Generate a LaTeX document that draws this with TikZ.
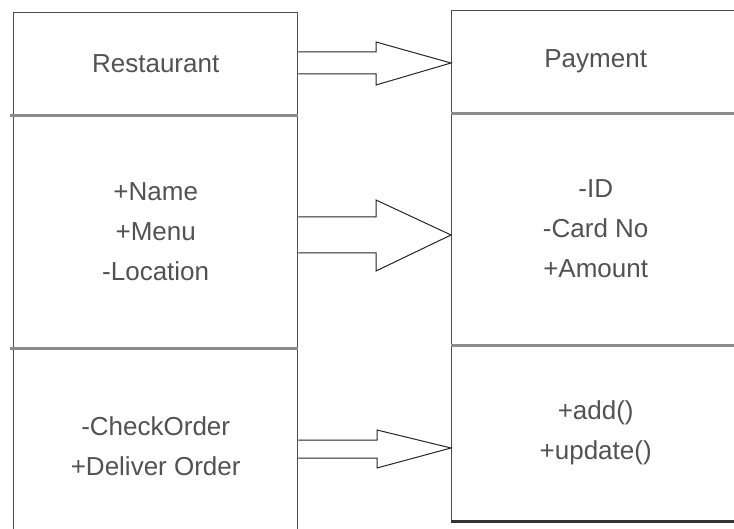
\documentclass[tikz,border=0pt]{standalone}
\usepackage{fontspec}
\setmainfont{Liberation Sans}
\begin{document}
\begin{tikzpicture}[x=0.5pt, y=-0.5pt,
        every node/.style={rectangle, align=center, inner sep=0pt,
            text=black!68, font=\fontsize{13}{20}\selectfont},
        compart/.style 2 args={draw=black!70, line width=0.7pt, anchor=north west,
            minimum width=#1, minimum height=#2},
        divider/.style={draw=black!45, line width=1.3pt},
        blockarrow/.style={draw=black!85, line width=0.5pt, line join=miter}]
    \useasboundingbox (0,0) rectangle (734,529);
    \clip (0,0) rectangle (734,529);
    \fill[white] (0,0) rectangle (734,529);
    % Restaurant class
    \node [compart={142pt}{51pt}] (restname) at (13,12) {Restaurant};
    \node [compart={142pt}{116.5pt}] (restattr) at (13,114) {+Name\\+Menu\\-Location};
    \node [compart={142pt}{99pt}] (restops) at (13,347) {-CheckOrder\\+Deliver Order};
    % Payment class
    \node [compart={144pt}{51pt}] (payname) at (451,10) {Payment};
    \node [compart={144pt}{116pt}] (payattr) at (451,112) {-ID\\-Card No\\+Amount};
    \node [compart={144pt}{88pt}] (payops) at (451,344) {+add()\\+update()};
    \draw [black!80, line width=1.2pt] (payops.south west) -- (payops.south east);
    % dividers
    \draw [divider] ([xshift=-1.5pt]restname.south west) -- (restname.south east);
    \draw [divider] ([xshift=-1.5pt]restattr.south west) -- (restattr.south east);
    \draw [divider] (payname.south west) -- (payname.south east);
    \draw [divider] (payattr.south west) -- (payattr.south east);
    % block arrows
    \draw [blockarrow] (restname.east |- 0,52) -- (376,52) -- (376,42)
        -- (payname.west |- 0,63) -- (376,85) -- (376,74) -- (restname.east |- 0,74);
    \draw [blockarrow] (restattr.east |- 0,217) -- (376,217) -- (376,200)
        -- (payattr.west |- 0,235) -- (376,271) -- (376,253) -- (restattr.east |- 0,253);
    \draw [blockarrow] (restops.east |- 0,440) -- (377,440) -- (377,430)
        -- (payops.west |- 0,448) -- (377,468) -- (377,458) -- (restops.east |- 0,458);
\end{tikzpicture}
\end{document}
